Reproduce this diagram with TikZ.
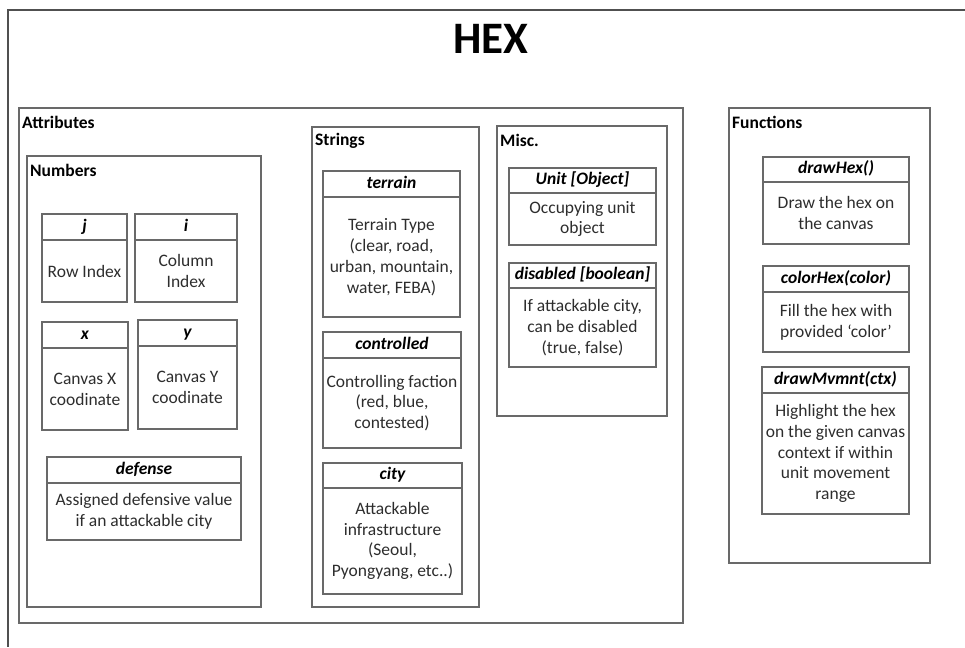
\documentclass[tikz,border=0pt]{standalone}
\usepackage{fontspec}
\setmainfont{Carlito}
\definecolor{linec}{RGB}{105,105,105}
\definecolor{framec}{RGB}{80,80,80}
\definecolor{txt}{RGB}{45,45,45}
\tikzset{
  boxline/.style={draw=linec, line width=1.3pt},
  hdr/.style={boxline, rectangle, inner sep=0pt, outer sep=0pt,
    text height=12pt, text depth=4pt,
    font=\fontsize{17.5}{20.8}\selectfont\bfseries\itshape, text=black, align=center},
  bdy/.style={boxline, rectangle, inner sep=0pt, outer sep=0pt,
    font=\fontsize{17.5}{20.8}\selectfont, text=txt, align=center},
  grp/.style={boxline, rectangle, inner sep=0pt, outer sep=0pt},
  grplabel/.style={anchor=west, inner sep=0pt,
    font=\fontsize{17.5}{20}\selectfont\bfseries, text=black},
  titlestyle/.style={inner sep=0pt, font=\fontsize{45}{50}\selectfont\bfseries, text=black},
}
% name, left, top, header-bottom, right, bottom, title, body
\newcommand\umlbox[8]{%
  \node[hdr, minimum width={(#5-#2)*1pt}, minimum height={(#4-#3)*1pt}]
    (#1-h) at ({(#2+#5)/2},{(#3+#4)/2}) {#7};
  \node[bdy, minimum width={(#5-#2)*1pt}, minimum height={(#6-#4)*1pt}]
    (#1-b) at ({(#2+#5)/2},{(#4+#6)/2}) {#8};
}
% name, left, top, right, bottom, label
\newcommand\grpbox[6]{%
  \node[grp, minimum width={(#4-#2)*1pt}, minimum height={(#5-#3)*1pt}]
    (#1) at ({(#2+#4)/2},{(#3+#5)/2}) {};
  \node[grplabel] (#1-l) at ([xshift=3pt,yshift=-14pt]#1.north west) {#6};
}
\begin{document}
\begin{tikzpicture}[x=1pt,y=-1pt]
\useasboundingbox (0,0) rectangle (965,647);
% outer frame (open to right and bottom)
\coordinate (otr) at (965,10);
\coordinate (otl) at (8,10);
\coordinate (obl) at (8,647);
\draw[draw=framec, line width=1.3pt] (otr) -- (otl) -- (obl);
\node[titlestyle] (title) at (491,38.5) {HEX};

% containers
\grpbox{attr}{19}{108}{683}{623}{Attributes}
\grpbox{num}{27}{156}{261}{607}{Numbers}
\grpbox{str}{312}{127}{479}{607}{Strings}
\grpbox{misc}{497}{126}{667}{416}{Misc.}
\grpbox{func}{729}{108}{930}{563}{Functions}

% Numbers
\umlbox{j}{42}{214}{240}{127}{302}{j}{Row Index}
\umlbox{i}{135}{214}{240}{237}{302}{i}{Column\\Index}
\umlbox{x}{42}{322}{348}{128}{430}{x}{Canvas X\\coodinate}
\umlbox{y}{138}{320}{346}{237}{429}{y}{Canvas Y\\coodinate}
\umlbox{def}{47}{457}{483}{241}{540}{defense}{Assigned defensive value\\if an attackable city}

% Strings
\umlbox{ter}{323}{171}{197}{460}{317}{terrain}{Terrain Type\\(clear, road,\\urban, mountain,\\water, FEBA)}
\umlbox{ctl}{323}{332}{358}{461}{448}{controlled}{Controlling faction\\(red, blue,\\contested)}
\umlbox{city}{323}{463}{488}{462}{594}{city}{Attackable\\infrastructure\\(Seoul,\\Pyongyang, etc..)}

% Misc
\umlbox{unit}{509}{168}{193}{656}{245}{Unit [Object]}{Occupying unit\\object}
\umlbox{dis}{509}{263}{288}{656}{367}{disabled [boolean]}{If attackable city,\\can be disabled\\(true, false)}

% Functions
\umlbox{dh}{763}{157}{182}{909}{244}{drawHex()}{Draw the hex on\\the canvas}
\umlbox{ch}{763}{266}{292}{909}{352}{colorHex(color)}{Fill the hex with\\provided ‘color’}
\umlbox{dm}{762}{367}{393}{909}{514}{drawMvmnt(ctx)}{Highlight the hex\\on the given canvas\\context if within\\unit movement\\range}
\end{tikzpicture}
\end{document}
